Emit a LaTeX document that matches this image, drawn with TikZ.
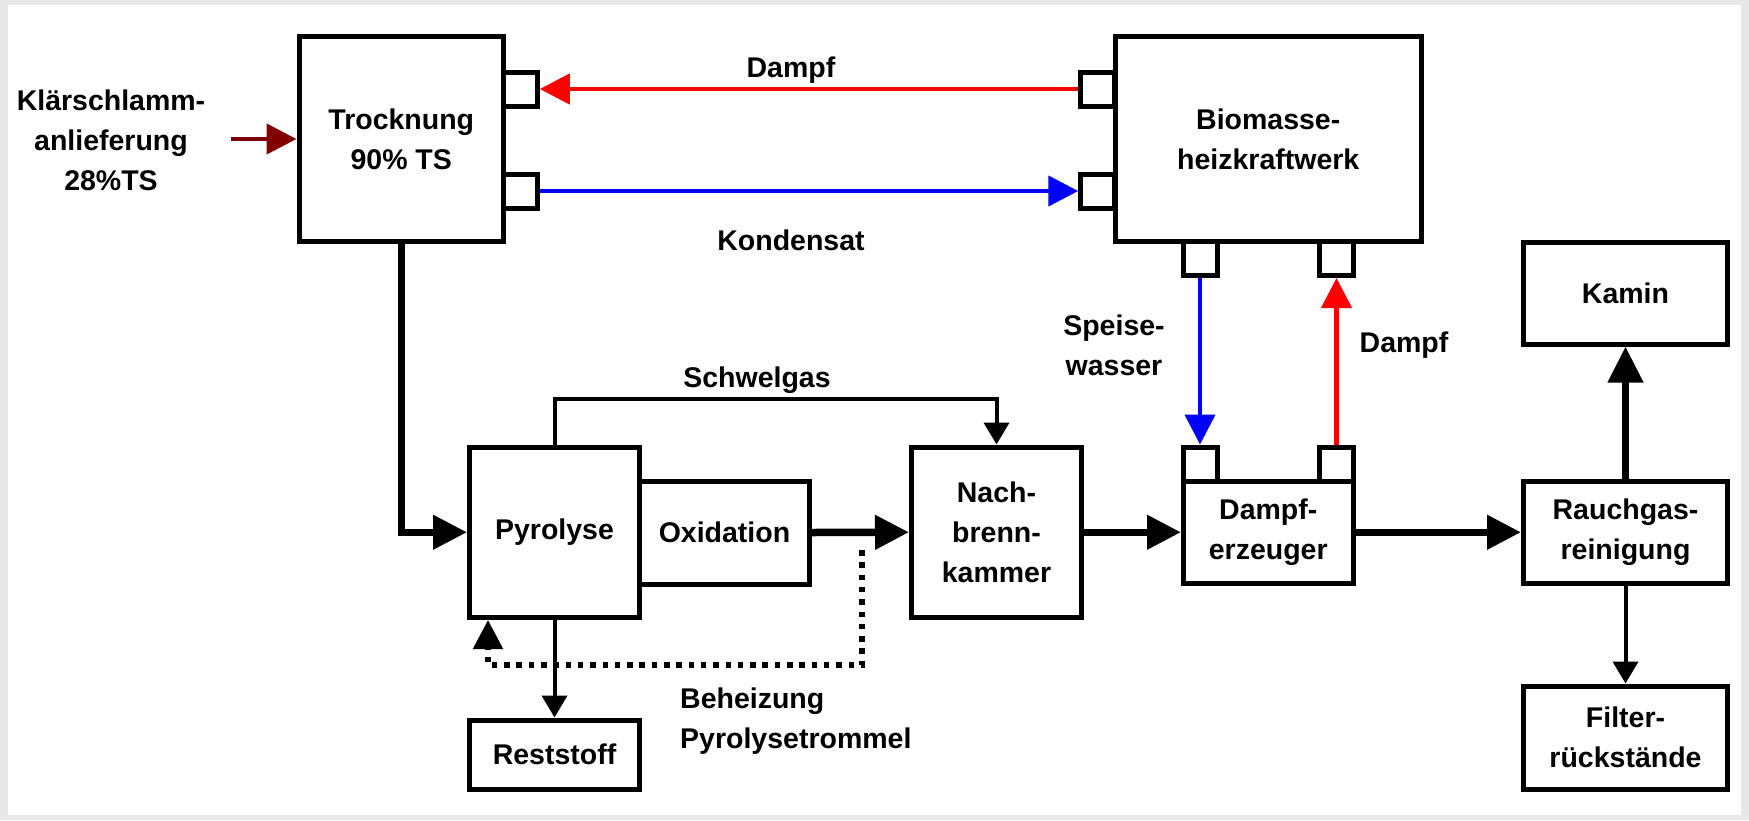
\documentclass[tikz,border=0pt]{standalone}
\usepackage{fontspec}
\setmainfont{Liberation Sans}
\usetikzlibrary{arrows.meta,calc}
\definecolor{darkred}{HTML}{800000}
\definecolor{bggray}{HTML}{E8E8E8}
\definecolor{pred}{HTML}{FF0000}
\definecolor{pblue}{HTML}{0000FF}
\begin{document}
\begin{tikzpicture}[x=1pt,y=-1pt,
  txt/.style={font=\fontsize{28.5}{40}\selectfont\bfseries, align=center, inner sep=0pt},
  box/.style={txt, draw, line width=5pt, fill=white},
  port/.style={draw, line width=5pt, fill=white, inner sep=0pt, minimum width=34pt, minimum height=34pt},
  flow/.style={line width=7.5pt, -{Triangle[length=34pt,width=33pt]}},
  thinarrow/.style={line width=4pt, -{Triangle[length=22pt,width=25pt]}},
  colarrow/.style={line width=4.5pt, -{Triangle[length=30pt,width=30pt]}},
  dotline/.style={line width=5.5pt, dash pattern=on 5.5pt off 6.8pt, -{Triangle[length=29pt,width=29pt]}}
]
\useasboundingbox (0,0) rectangle (1749,820);
\fill[bggray] (0,0) rectangle (1749,820);
\fill[white] (8,5) rectangle (1741,815);

% boxes
\node[box, minimum width=204.5pt, minimum height=205pt] (tro) at (401.25,139) {Trocknung\\90\% TS};
\node[box, minimum width=306.5pt, minimum height=205pt] (bio) at (1268.25,139) {Biomasse-\\heizkraftwerk};
\node[box, minimum width=170pt, minimum height=103pt] (oxi) at (724.5,532.5) {Oxidation};
\node[box, minimum width=170pt, minimum height=170.5pt] (pyr) at (554.5,532.25) {Pyrolyse};
\node[box, minimum width=170pt, minimum height=170.5pt] (nach) at (996.5,532.25) {Nach-\\brenn-\\kammer};
\node[box, minimum width=169.5pt, minimum height=102.5pt] (dz) at (1268.25,532.25) {Dampf-\\erzeuger};
\node[box, minimum width=204pt, minimum height=102.5pt] (rauch) at (1625.5,532.25) {Rauchgas-\\reinigung};
\node[box, minimum width=204pt, minimum height=102pt] (kamin) at (1625.5,293) {Kamin};
\node[box, minimum width=204pt, minimum height=103pt] (filter) at (1625.5,737.5) {Filter-\\rückstände};
\node[box, minimum width=170pt, minimum height=69pt] (rest) at (554.5,754.5) {Reststoff};

% ports
\node[port] (pt1) at (520.25,89) {};
\node[port] (pt2) at (520.25,191) {};
\node[port] (pb1) at (1097.75,89) {};
\node[port] (pb2) at (1097.75,191) {};
\node[port] (pb3) at (1200,258.5) {};
\node[port] (pb4) at (1336.5,258.5) {};
\node[port] (pd1) at (1200,464) {};
\node[port] (pd2) at (1336.5,464) {};

% labels
\node[txt] (lklaer) at (111,140) {Klärschlamm-\\anlieferung\\28\%TS};
\node[txt] (ldampf1) at (791,70) {Dampf};
\node[txt] (lkond) at (791,240) {Kondensat};
\node[txt] (lspeise) at (1114,345) {Speise-\\wasser};
\node[txt] (ldampf2) at (1404,345) {Dampf};
\node[txt] (lschwel) at (757,380) {Schwelgas};
\node[txt, anchor=west, align=left] (lbeh) at (680,721) {Beheizung\\Pyrolysetrommel};

% coloured connectors
\coordinate (kin) at (231,139);
\draw[colarrow, darkred] (kin) -- (tro.west);
\draw[colarrow, pred] (pb1.west) -- (pt1.east);
\draw[colarrow, pblue] (pt2.east) -- (pb2.west);
\draw[colarrow, pblue] (pb3.south) -- (pd1.north);
\draw[colarrow, pred] (pd2.north) -- (pb4.south);

% main flow
\draw[flow] (tro.south) |- (pyr.west);
\draw[flow] (oxi.east) -- (nach.west);
\draw[flow] (nach.east) -- (dz.west);
\draw[flow] (dz.east) -- (rauch.west);
\draw[line width=7.5pt, -{Triangle[length=36pt,width=34pt]}] (rauch.north) -- (kamin.south);

% thin connectors
\coordinate (sg) at (554.5,399);
\draw[thinarrow] (pyr.north) -- (sg) -| (nach.north);
\draw[thinarrow] (pyr.south) -- (rest.north);
\draw[thinarrow] (rauch.south) -- (filter.north);

% dotted heating loop
\coordinate (ds) at (862,550);
\coordinate (dc) at (862,665);
\coordinate (dl) at (488,665);
\draw[dotline] (ds) -- (dc) -- (dl) -- (dl |- pyr.south);
\end{tikzpicture}
\end{document}
